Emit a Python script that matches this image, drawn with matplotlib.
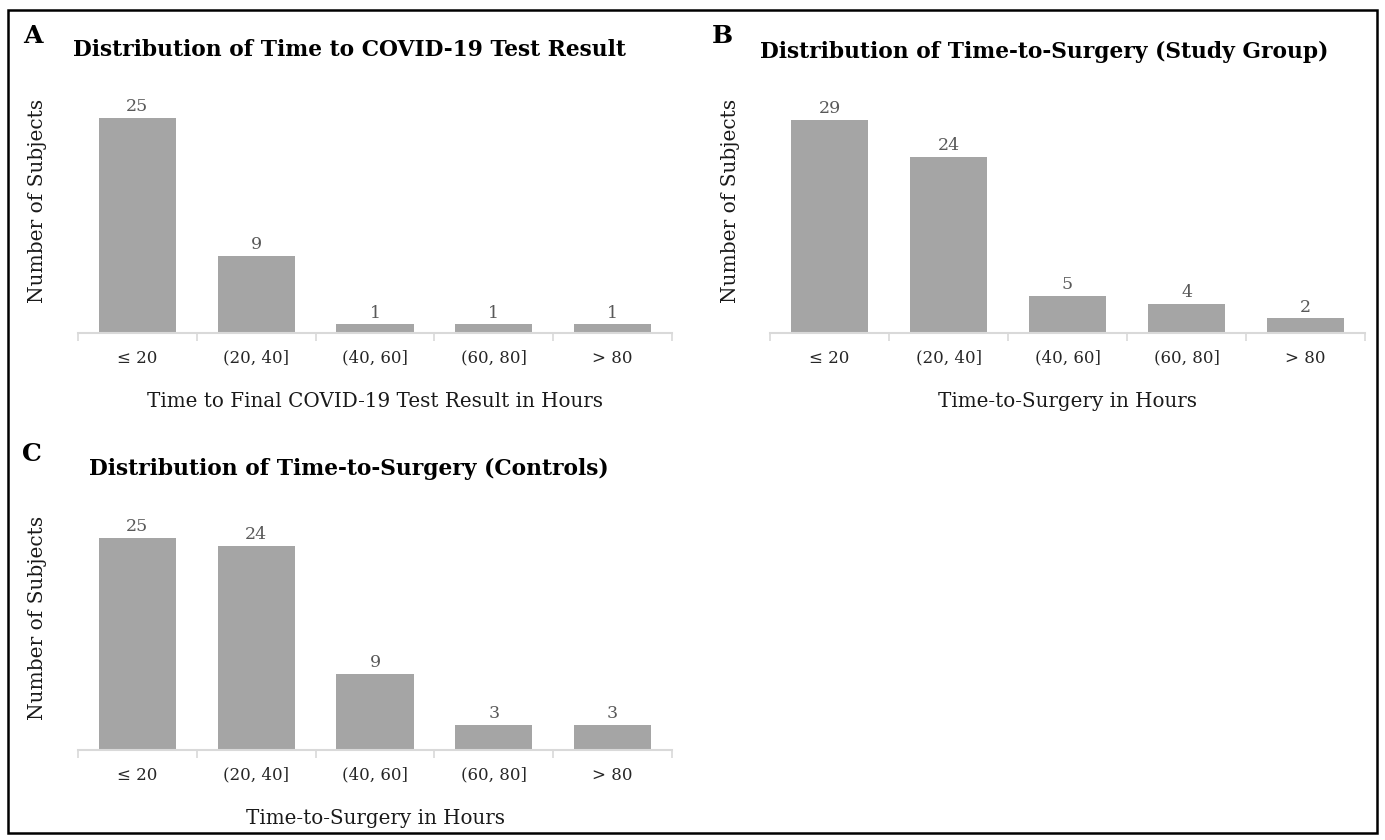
import matplotlib
matplotlib.use("Agg")
import matplotlib.pyplot as plt
from matplotlib.patches import Rectangle

plt.rcParams["font.family"] = ["DejaVu Serif"]

categories = ["≤ 20", "(20, 40]", "(40, 60]", "(60, 80]", "> 80"]
test_result_counts = [25, 9, 1, 1, 1]
surgery_study_counts = [29, 24, 5, 4, 2]
surgery_control_counts = [25, 24, 9, 3, 3]

W, H = 1385, 840
BAR = "#a5a5a5"
LABEL = "#595959"
AXIS = "#d9d9d9"


def px(x, y):
    return x / W, 1 - y / H


def box(left, top, right, bottom):
    return [left / W, 1 - bottom / H, (right - left) / W, (bottom - top) / H]


def draw_panel(ax, counts, ymax, xlabel):
    xs = range(len(counts))
    bars = ax.bar(xs, counts, width=0.65, color=BAR, zorder=2)
    for b, v in zip(bars, counts):
        ax.annotate(str(v), (b.get_x() + b.get_width() / 2, v),
                    xytext=(0, 2), textcoords="offset points",
                    ha="center", va="bottom", fontsize=12.5, color=LABEL)
    ax.set_xlim(-0.5, len(counts) - 0.5)
    ax.set_ylim(0, ymax)
    for s in ["top", "right", "left"]:
        ax.spines[s].set_visible(False)
    ax.spines["bottom"].set_color(AXIS)
    ax.spines["bottom"].set_linewidth(1.5)
    ax.set_yticks([])
    ax.set_xticks(list(xs))
    ax.set_xticklabels(categories, fontsize=12, color="#262626")
    ax.tick_params(axis="x", which="major", length=0, pad=12)
    ax.set_xticks([i - 0.5 for i in range(len(counts) + 1)], minor=True)
    ax.tick_params(axis="x", which="minor", length=6, width=1.2, color=AXIS)
    ax.set_xlabel(xlabel, fontsize=14.3, color="#1a1a1a", labelpad=18)


fig = plt.figure(figsize=(W / 100, H / 100), dpi=100)

ax_a = fig.add_axes(box(78, 95, 672, 333))
draw_panel(ax_a, test_result_counts, 238 / 8.6,
           "Time to Final COVID-19 Test Result in Hours")

ax_b = fig.add_axes(box(770, 95, 1365, 333))
draw_panel(ax_b, surgery_study_counts, 238 / 7.35, "Time-to-Surgery in Hours")

ax_c = fig.add_axes(box(78, 510, 672, 750))
draw_panel(ax_c, surgery_control_counts, 240 / 8.5, "Time-to-Surgery in Hours")

# y labels
for (x, y) in [(38, 201), (731, 201), (38, 618)]:
    fig.text(*px(x, y), "Number of Subjects", rotation=90, ha="center",
             va="center", fontsize=14.5, color="#1a1a1a")

# panel letters and titles
for letter, (x, y) in [("A", (33, 36)), ("B", (722, 36)), ("C", (32, 454))]:
    fig.text(*px(x, y), letter, ha="center", va="center", fontsize=18,
             fontweight="bold", color="black")

titles = [
    ("Distribution of Time to COVID-19 Test Result", (349, 50)),
    ("Distribution of Time-to-Surgery (Study Group)", (1044, 52)),
    ("Distribution of Time-to-Surgery (Controls)", (349, 469)),
]
for t, (x, y) in titles:
    fig.text(*px(x, y), t, ha="center", va="center", fontsize=15.7,
             fontweight="bold", color="black")

# outer frame
fig.patches.append(Rectangle((8 / W, 7 / H), 1 - 16 / W, 1 - 17 / H,
                             transform=fig.transFigure, fill=False,
                             edgecolor="black", linewidth=1.8))

fig.savefig("out.png", dpi=100, facecolor="white")
